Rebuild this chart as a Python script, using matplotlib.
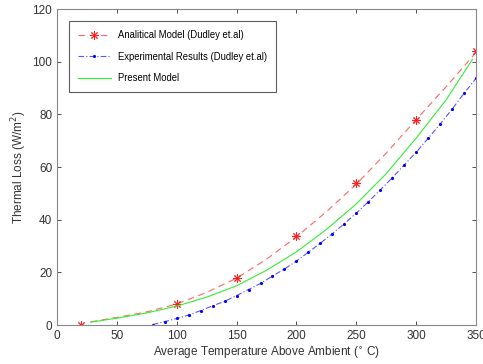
import matplotlib

matplotlib.use("Agg")
import matplotlib.pyplot as plt

plt.rcParams["font.family"] = ["Liberation Sans", "DejaVu Sans"]

# analytical model (Dudley et.al): markers and the fitted dashed curve
ana_x = [20, 100, 150, 200, 250, 300, 350]
ana_y = [0, 8, 18, 34, 54, 78, 104]
ana_curve_x = [28, 50, 75, 100, 125, 150, 175, 200, 225, 250, 275, 300, 325, 350]
ana_curve_y = [1.2, 2.9, 5.0, 8.0, 12.4, 17.8, 25.0, 33.5, 43.0, 53.5, 65.3, 78.0, 90.5, 103.5]

# experimental results (Dudley et.al)
exp_x = [80, 90, 100, 110, 120, 130, 140, 150, 160, 170, 180, 190, 200, 210, 220,
         230, 240, 250, 260, 270, 280, 290, 300, 310, 320, 330, 340, 350]
exp_y = [0.2, 1.3, 2.5, 3.8, 5.5, 7.3, 9.0, 11.2, 13.5, 15.8, 18.6, 21.3, 24.3, 27.7, 31.1,
         34.7, 38.5, 42.5, 46.8, 51.3, 55.9, 60.8, 65.6, 70.9, 76.3, 82.0, 88.0, 93.7]

# present model
pm_x = [28, 50, 75, 100, 125, 150, 175, 200, 225, 250, 275, 300, 325, 347]
pm_y = [1.1, 2.6, 4.6, 7.2, 10.6, 14.9, 20.8, 27.8, 36.3, 46.0, 57.5, 71.0, 85.5, 100.9]

ASTERISK = (8, 2, 0)

fig = plt.figure(figsize=(4.83, 3.64), dpi=100)
ax = fig.add_axes([0.118, 0.107, 0.8675, 0.868])

ax.plot(ana_curve_x, ana_curve_y, color="#ff6666", lw=0.8, ls=(0, (6, 4)))
ax.plot(ana_x, ana_y, ls="none", marker=ASTERISK, ms=6, color="#ff2222", mew=0.7)
ax.plot([], [], color="#ff6666", lw=0.8, ls=(0, (6, 4)), marker=ASTERISK, ms=6,
        mec="#ff2222", mew=0.7, label="Analitical Model (Dudley et.al)")

ax.plot(exp_x, exp_y, color="#5555ff", lw=0.8, ls=(0, (5, 2, 1, 2)),
        marker=".", ms=2.5, mfc="blue", mec="blue",
        label="Experimental Results (Dudley et.al)")

ax.plot(pm_x, pm_y, color="#33ee33", lw=0.8, label="Present Model")

ax.set_xlim(0, 350)
ax.set_ylim(0, 120)
ax.set_xticks(range(0, 351, 50))
ax.set_yticks(range(0, 121, 20))
ax.tick_params(direction="in", top=True, right=True, labelsize=8.5,
               colors="#333333", length=3, width=0.6)
for s in ax.spines.values():
    s.set_color("#888888")
    s.set_linewidth(0.8)

ax.set_xlabel("Average Temperature Above Ambient ($^{\\circ}$ C)", fontsize=8.5,
              color="#333333", labelpad=2)
ax.set_ylabel("Thermal Loss (W/m$^2$)", fontsize=8.5, color="#333333", labelpad=2)

leg = ax.legend(loc="upper left", bbox_to_anchor=(0.028, 0.962), fontsize=6.85,
                frameon=True, fancybox=False, edgecolor="#333333",
                borderpad=0.95, labelspacing=1.2, handlelength=3.5,
                handletextpad=0.75, borderaxespad=0)
leg.get_frame().set_linewidth(0.8)

fig.savefig("out.png", dpi=100)
